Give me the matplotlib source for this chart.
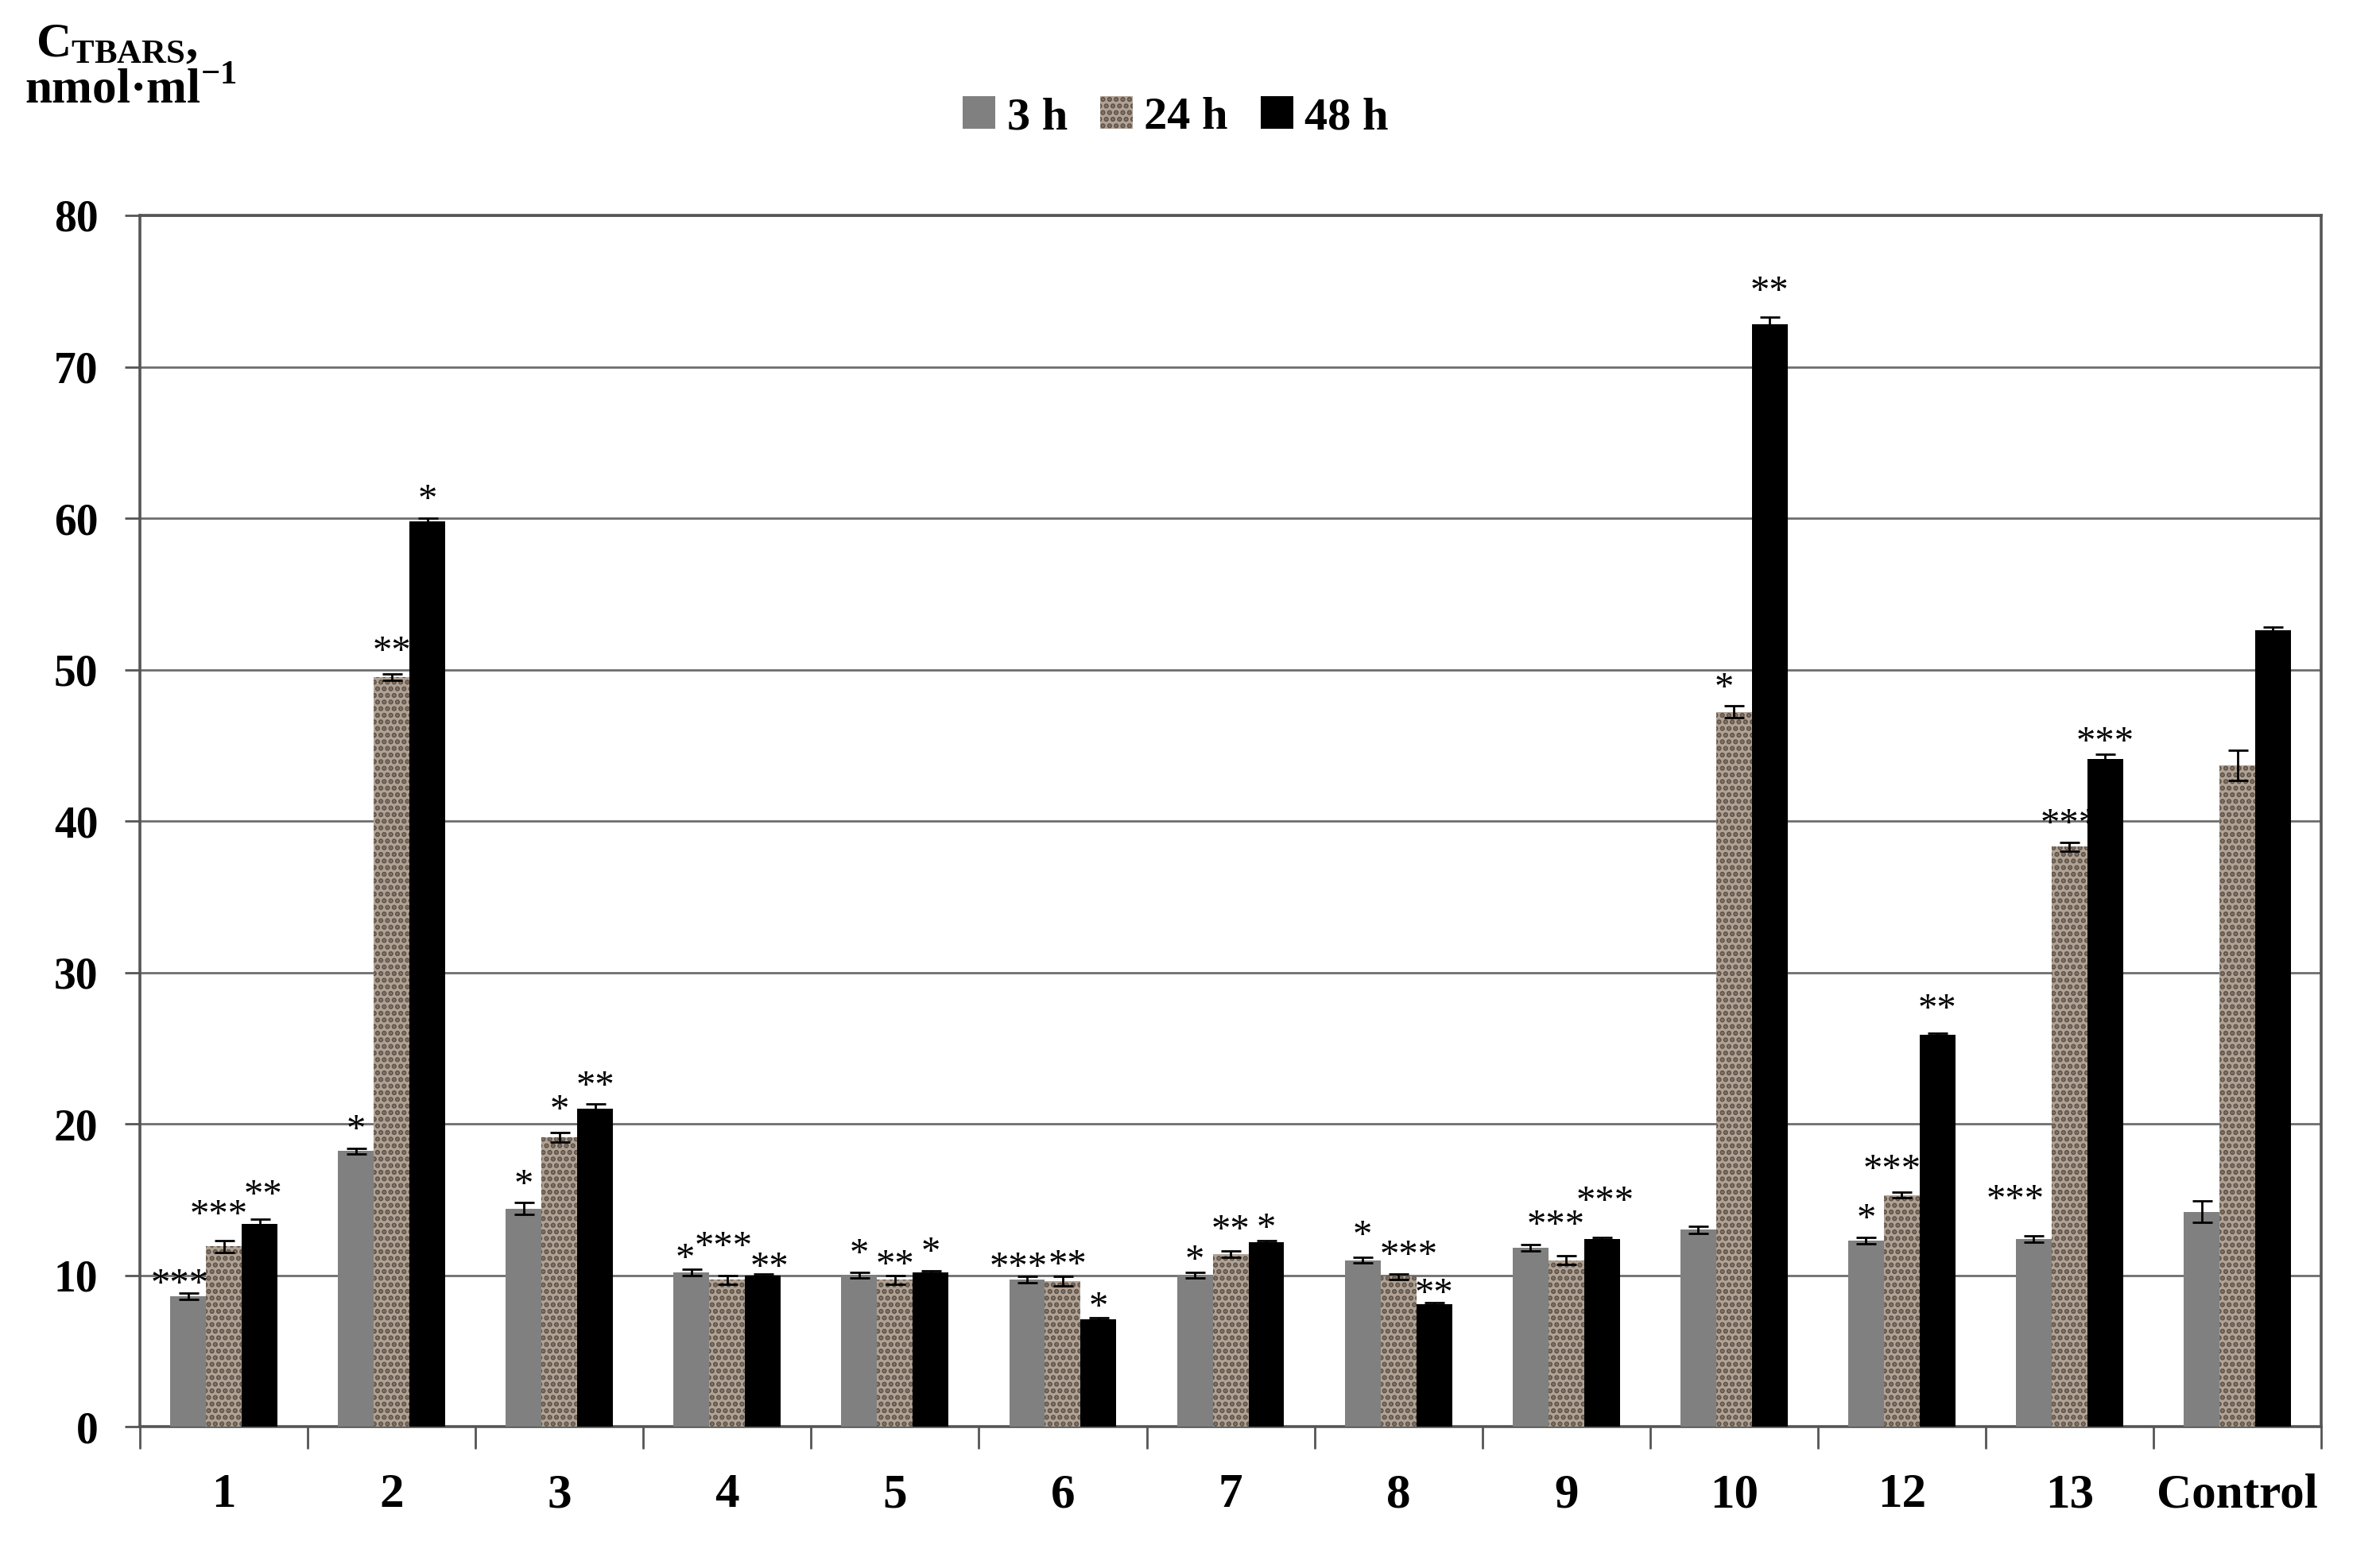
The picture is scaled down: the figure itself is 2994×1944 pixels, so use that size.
import numpy as np
import matplotlib
matplotlib.use("Agg")
import matplotlib.pyplot as plt
from matplotlib.patches import Patch

plt.rcParams['font.family'] = ['Liberation Serif', 'DejaVu Serif']
plt.rcParams['mathtext.fontset'] = 'custom'
plt.rcParams['mathtext.rm'] = 'Liberation Serif'
plt.rcParams['mathtext.bf'] = 'Liberation Serif:bold'
plt.rcParams['hatch.linewidth'] = 1.6

# dane
grupos = ["1", "2", "3", "4", "5", "6", "7", "8", "9", "10", "12", "13", "Control"]
series = ["3 h", "24 h", "48 h"]

v3h = [8.6, 18.2, 14.4, 10.2, 10.0, 9.7, 10.0, 11.0, 11.8, 13.0, 12.3, 12.4, 14.2]
v24h = [11.9, 49.5, 19.1, 9.7, 9.7, 9.6, 11.4, 9.9, 11.0, 47.2, 15.3, 38.3, 43.7]
v48h = [13.4, 59.8, 21.0, 10.0, 10.2, 7.1, 12.2, 8.1, 12.4, 72.8, 25.9, 44.1, 52.6]

e3h = [0.2, 0.2, 0.4, 0.2, 0.2, 0.2, 0.2, 0.2, 0.2, 0.25, 0.2, 0.2, 0.7]
e24h = [0.4, 0.2, 0.3, 0.3, 0.3, 0.3, 0.2, 0.2, 0.3, 0.4, 0.2, 0.3, 1.0]
e48h = [0.3, 0.2, 0.3, 0.1, 0.1, 0.1, 0.1, 0.1, 0.1, 0.5, 0.1, 0.3, 0.2]

s3h = ["***", "*", "*", "*", "*", "***", "*", "*", "", "", "*", "***", ""]
s24h = ["***", "**", "*", "***", "**", "**", "**", "***", "***", "*", "***", "***", ""]
s48h = ["**", "*", "**", "**", "*", "*", "*", "**", "***", "**", "**", "***", ""]

valores = [v3h, v24h, v48h]
errores = [e3h, e24h, e48h]
estrellas = [s3h, s24h, s48h]

# estilos
colores = ["#808080", "#b0a294", "#000000"]
tramas = [None, "....", None]

# ajuste de algunas etiquetas (grupo, serie): (dx, dy)
ajuste = {(0, 0): (-0.05, -0.6), (0, 1): (-0.03, 0.5), (0, 2): (0.02, 0.4),
          (1, 1): (0, 0.3), (2, 1): (0, 0.3),
          (3, 0): (-0.04, -0.5), (3, 1): (-0.02, 0.7), (3, 2): (0.04, -0.8),
          (4, 1): (0, -0.5),
          (5, 0): (-0.05, -0.6), (5, 1): (0.03, -0.4), (5, 2): (0, -0.5),
          (6, 0): (0, -0.4), (6, 1): (0, 0.2), (6, 2): (0, -0.4),
          (7, 0): (0, 0.2), (7, 1): (0.06, 0), (7, 2): (0, -0.6),
          (8, 1): (-0.06, 0.8), (8, 2): (0.02, 1.2),
          (9, 1): (-0.06, 0), (9, 2): (0, 0.5),
          (10, 1): (-0.06, 0.3), (10, 2): (0, 0.4),
          (11, 0): (-0.11, 1.2), (11, 2): (0, -0.4)}

fig = plt.figure(figsize=(14.97, 9.72), dpi=200)
ax = fig.add_axes([0.0588, 0.0766, 0.9165, 0.784])

x = np.arange(len(grupos))
ancho = 0.213

for k in range(3):
    pos = x + (k - 1) * ancho
    ax.bar(pos, valores[k], ancho, color=colores[k], hatch=tramas[k],
           edgecolor="#5e5248" if tramas[k] else colores[k], linewidth=0,
           zorder=3)
    ax.errorbar(pos, valores[k], yerr=errores[k], fmt="none", ecolor="black",
                elinewidth=1.0, capsize=4.5, capthick=1.0, zorder=4)
    for i in range(len(grupos)):
        if estrellas[k][i]:
            dx, dy = ajuste.get((i, k), (0, 0))
            y = valores[k][i] + errores[k][i] + 0.5 + dy
            ax.text(pos[i] + dx, y, estrellas[k][i], ha="center", va="baseline",
                    fontsize=17.5, zorder=5)

ax.set_xlim(-0.5, len(grupos) - 0.5)
ax.set_ylim(0, 80)
ax.set_yticks(np.arange(0, 81, 10))
ax.yaxis.grid(True, color="#6e6e6e", linewidth=1.0, zorder=0)
ax.set_axisbelow(True)

ax.set_xticks(x)
ax.set_xticklabels(grupos, fontsize=22, fontweight="bold")
ax.set_xticks(np.arange(-0.5, len(grupos), 1), minor=True)
ax.tick_params(axis="x", which="major", length=0, pad=21)
ax.tick_params(axis="x", which="minor", length=10, width=1.0, color="#555555",
               direction="out")
ax.tick_params(axis="y", length=7, width=1.0, color="#555555", direction="out",
               pad=12, labelsize=20)
for lab in ax.get_yticklabels():
    lab.set_fontweight("bold")

for sp in ax.spines.values():
    sp.set_color("#555555")
    sp.set_linewidth(1.3)

fig.text(0.049, 0.971, r"$\mathbf{C_{TBARS}}$,", ha="center", va="center",
         fontsize=22, fontweight="bold")
fig.text(0.055, 0.941, r"nmol·ml$^{\mathbf{-1}}$", ha="center", va="center",
         fontsize=22, fontweight="bold")

manijas = [Patch(facecolor=colores[k], hatch=tramas[k],
                 edgecolor="#5e5248" if tramas[k] else colores[k], linewidth=0)
           for k in range(3)]
fig.legend(manijas, series, loc="center", bbox_to_anchor=(0.494, 0.924),
           ncol=3, frameon=False, handlelength=0.7, handleheight=0.7,
           handletextpad=0.25, columnspacing=0.7,
           prop={"size": 21, "weight": "bold"})

fig.savefig("out.png", dpi=200)
